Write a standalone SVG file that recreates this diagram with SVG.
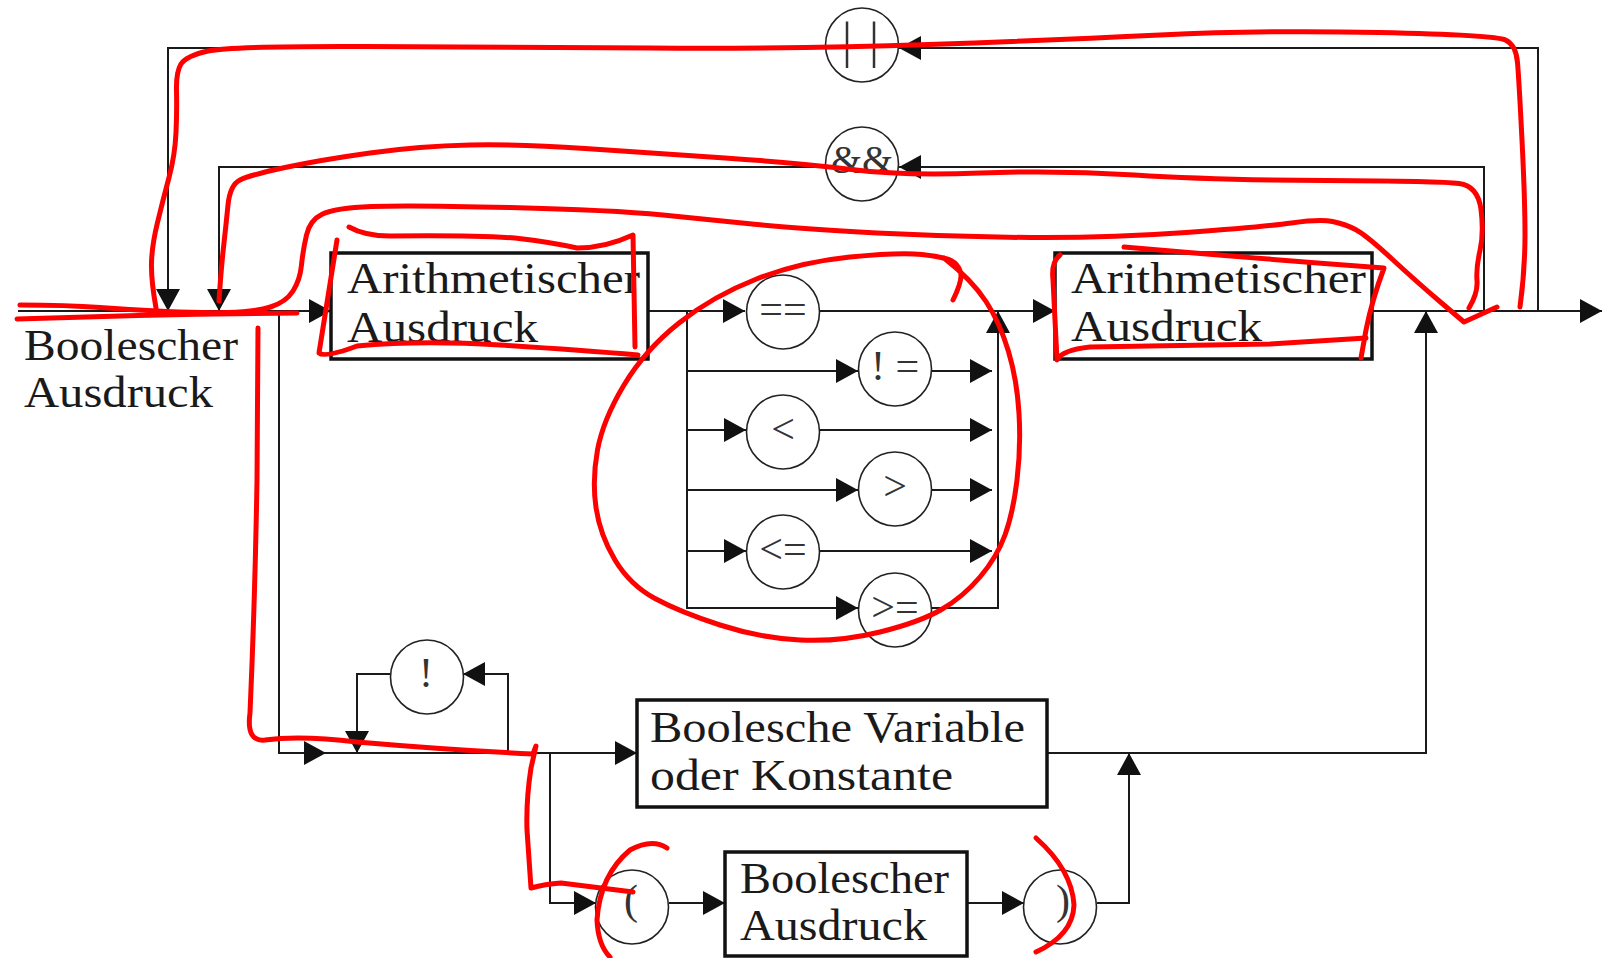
<svg xmlns="http://www.w3.org/2000/svg" width="1607" height="958" viewBox="0 0 1607 958">
<defs>
<marker id="ah" viewBox="0 0 22 24" refX="22" refY="12" markerWidth="22" markerHeight="24" markerUnits="userSpaceOnUse" orient="auto"><path d="M0,0 L22,12 L0,24 z" fill="#111"/></marker>
<style>
.ln{fill:none;stroke:#1a1a1a;stroke-width:2;marker-end:url(#ah)}
.box{fill:#fff;stroke:#111;stroke-width:3.5}
.circ{fill:#fff;stroke:#222;stroke-width:1.6}
.bt{font-family:"Liberation Serif","Times New Roman",serif;font-size:45px;fill:#1a1a1a}
.ot{font-family:"Liberation Serif","Times New Roman",serif;font-size:42px;fill:#333;text-anchor:middle}
.red{fill:none;stroke:#ff0000;stroke-width:5;stroke-linecap:round;stroke-linejoin:round}
</style>
</defs>
<rect width="1607" height="958" fill="#fff"/>
<g id="connectors">
<path class="ln" d="M18,311 H331"/>
<path class="ln" d="M648,311 H745"/>
<path class="ln" d="M820,311 H1055"/>
<path class="ln" d="M1372,311 H1602"/>
<path class="ln" d="M1538,311 V48 H899"/>
<path class="ln" d="M826,48 H168 V311"/>
<path class="ln" d="M1484,311 V167 H899"/>
<path class="ln" d="M826,167 H219 V311"/>
<path class="ln" d="M279,311 V753 H326"/>
<path class="ln" d="M326,753 H637"/>
<path class="ln" d="M508,753 V674 H463"/>
<path class="ln" d="M390,674 H357 V753"/>
<path class="ln" d="M550,753 V903 H596"/>
<path class="ln" d="M669,903 H725"/>
<path class="ln" d="M967,903 H1024"/>
<path class="ln" d="M1097,903 H1129 V753"/>
<path class="ln" d="M1047,753 H1426 V311"/>
<path class="ln" d="M687,311 V608 H858"/>
<path class="ln" d="M932,608 H998 V311"/>
<path class="ln" d="M687,371 H858"/>
<path class="ln" d="M932,371 H992"/>
<path class="ln" d="M687,430 H746"/>
<path class="ln" d="M820,430 H992"/>
<path class="ln" d="M687,490 H858"/>
<path class="ln" d="M932,490 H992"/>
<path class="ln" d="M687,551 H746"/>
<path class="ln" d="M820,551 H992"/>
</g>
<g id="label-start">
<text class="bt" x="24" y="360" textLength="214" lengthAdjust="spacingAndGlyphs">Boolescher</text>
<text class="bt" x="24" y="407" textLength="189" lengthAdjust="spacingAndGlyphs">Ausdruck</text>
</g>
<g id="arith1">
<rect class="box" x="331" y="253" width="317" height="106"/>
<text class="bt" x="347" y="293" textLength="293" lengthAdjust="spacingAndGlyphs">Arithmetischer</text>
<text class="bt" x="347" y="342" textLength="191" lengthAdjust="spacingAndGlyphs">Ausdruck</text>
</g>
<g id="arith2">
<rect class="box" x="1055" y="253" width="317" height="106"/>
<text class="bt" x="1071" y="293" textLength="295" lengthAdjust="spacingAndGlyphs">Arithmetischer</text>
<text class="bt" x="1071" y="341" textLength="191" lengthAdjust="spacingAndGlyphs">Ausdruck</text>
</g>
<g id="boolvar">
<rect class="box" x="637" y="700" width="410" height="107"/>
<text class="bt" x="650" y="742" textLength="375" lengthAdjust="spacingAndGlyphs">Boolesche Variable</text>
<text class="bt" x="650" y="790" textLength="303" lengthAdjust="spacingAndGlyphs">oder Konstante</text>
</g>
<g id="boolexpr">
<rect class="box" x="725" y="852" width="242" height="104"/>
<text class="bt" x="740" y="893" textLength="209" lengthAdjust="spacingAndGlyphs">Boolescher</text>
<text class="bt" x="740" y="940" textLength="187" lengthAdjust="spacingAndGlyphs">Ausdruck</text>
</g>
<g id="op-or"><ellipse class="circ" cx="862" cy="45" rx="36.5" ry="37"/><text class="ot" x="842" y="57" style="font-size:50px;text-anchor:start;letter-spacing:17px">||</text></g>
<g id="op-and"><ellipse class="circ" cx="862" cy="164" rx="36.5" ry="37"/><text class="ot" x="862" y="173" style="font-size:40px">&amp;&amp;</text></g>
<g id="op-eq"><ellipse class="circ" cx="783" cy="312" rx="36.5" ry="37"/><text class="ot" x="783" y="323">==</text></g>
<g id="op-ne"><ellipse class="circ" cx="895" cy="369" rx="36.5" ry="37"/><text class="ot" x="895" y="380">! =</text></g>
<g id="op-lt"><ellipse class="circ" cx="783" cy="432" rx="36.5" ry="37"/><text class="ot" x="783" y="443">&lt;</text></g>
<g id="op-gt"><ellipse class="circ" cx="895" cy="489" rx="36.5" ry="37"/><text class="ot" x="895" y="500">&gt;</text></g>
<g id="op-le"><ellipse class="circ" cx="783" cy="552" rx="36.5" ry="37"/><text class="ot" x="783" y="563">&lt;=</text></g>
<g id="op-ge"><ellipse class="circ" cx="895" cy="610" rx="36.5" ry="37"/><text class="ot" x="895" y="621">&gt;=</text></g>
<g id="op-not"><ellipse class="circ" cx="427" cy="677" rx="36.5" ry="37"/><text class="ot" x="426" y="687">!</text></g>
<g id="op-lparen"><ellipse class="circ" cx="632" cy="907" rx="36.5" ry="37"/><text class="ot" x="631" y="914">(</text></g>
<g id="op-rparen"><ellipse class="circ" cx="1060" cy="907" rx="36.5" ry="37"/><text class="ot" x="1063" y="914">)</text></g>
<g id="annotations">
<path class="red" d="M156,308 Q151,280 151.5,262.5 Q152,245 157.5,222.5 Q163,200 169,177.5 Q175,155 176,132.5 Q177,110 176.5,91 Q176,72 181,64 Q186,56 208,51 Q230,46 365,46.5 Q500,47 650,48 Q800,49 928.5,44.5 Q1057,40 1160,35 Q1263,30 1379,32.5 Q1495,35 1505.5,40 Q1516,45 1517.5,62.5 Q1519,80 1522,140 Q1525,200 1525,235 Q1525,270 1520,307"/>
<path class="red" d="M219,301 Q221,270 223.5,247.5 Q226,225 228,205 Q230,185 240,180 Q250,175 285,167.5 Q320,160 370,153 Q420,146 470,145 Q520,144 585,148.5 Q650,153 725,158 Q800,163 851.5,169.5 Q903,176 980,173 Q1057,170 1134.5,175 Q1212,180 1326,180.5 Q1440,181 1459,183.5 Q1478,186 1481,209.5 Q1484,233 1480,250.5 Q1476,268 1477,280.5 Q1478,293 1469,308"/>
<path class="red" d="M20,305 Q67,305 100,307.5 Q133,310 166.5,311.5 Q200,313 227.5,312.5 Q255,312 270.5,307 Q286,302 293,291 Q300,280 301.5,265 Q303,250 306.5,235 Q310,220 322.5,214 Q335,208 371.5,206.5 Q408,205 510,207.5 Q612,210 663,215 Q714,220 757,224.5 Q800,229 877,233 Q954,237 1031.5,237.5 Q1109,238 1186,232.5 Q1263,227 1291.5,223 Q1320,219 1332.5,221.5 Q1345,224 1355.5,229.5 Q1366,235 1392,259 Q1418,283 1441,302.5 L1464,322 L1497,307"/>
<path class="red" d="M17,319 Q160,314 297,313"/>
<path class="red" d="M349,227 Q365,236 390,236 Q470,235 515,238 Q550,242 577,248 Q605,248 633,235 L634,290 L635,347"/>
<path class="red" d="M337,240 L319,353 Q325,358 357,346 Q420,340 500,345 Q580,350 638,355"/>
<path class="red" d="M1060,255 Q1051,262 1053,280 L1057,360 Q1062,350 1090,347 Q1200,345 1270,344 L1366,338"/>
<path class="red" d="M1124,247 Q1250,258 1384,268 Q1372,300 1366,330 L1361,358"/>
<path class="red" d="M953,300 Q963,280 960.5,272 Q958,264 951,260.5 Q944,257 922,254.5 Q900,252 850,257 Q800,262 756.5,279 Q713,296 679,323 Q645,350 624,385 Q603,420 597.5,450 Q592,480 596,507.5 Q600,535 615,560 Q630,585 655,598.5 Q680,612 720,625 Q760,638 800,640 Q840,642 880,632 Q920,622 941.5,609.5 Q963,597 980,577 Q997,557 1005,535 Q1013,513 1017,480 Q1021,447 1019,413.5 Q1017,380 1008.5,351.5 Q1000,323 986,301.5 Q972,280 944,258"/>
<path class="red" d="M258,328 L257,480 Q255,600 250,713 Q246,742 265,740 Q300,735 357,742 Q450,750 533,754 L536,746 L531,768 Q526,800 527,830 L531,888 Q545,884 561,883 L633,892"/>
<path class="red" d="M667,848 Q652,838 630,850 Q600,875 597,920 Q598,945 610,957"/>
<path class="red" d="M1036,838 Q1072,870 1074,905 Q1073,935 1036,952"/>
</g>
</svg>
